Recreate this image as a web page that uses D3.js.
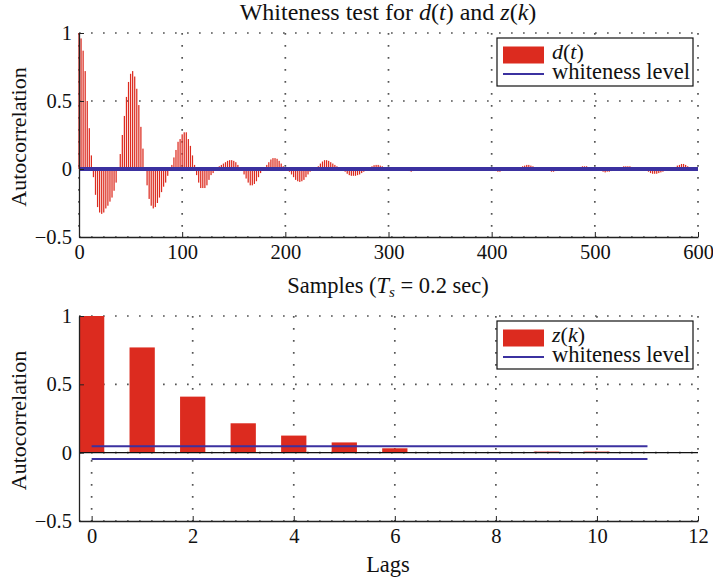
<!DOCTYPE html>
<html>
<head>
<meta charset="utf-8">
<script src="https://cdn.jsdelivr.net/npm/d3@7"></script>
<style>
  body { margin: 0; background: #fff; }
  svg text { font-family: "Liberation Serif", "DejaVu Serif", serif; fill: #111; }
  .tick text { font-size: 20.5px; }
  .tick line { stroke: #222; }
  .domain { stroke: #222; stroke-width: 1.3; }
</style>
</head>
<body>
<svg id="chart" width="713" height="580"></svg>
<script>
// autocorrelation of d(t), every 2 samples (lag 0..598)
const dLags = d3.range(0, 600, 2)
const dAcf = [
  1.00, 0.96, 0.87, 0.72, 0.50, 0.30, 0.10, -0.06, -0.19, -0.28,
  -0.32, -0.33, -0.32, -0.29, -0.27, -0.24, -0.21, -0.16, -0.10, -0.01,
  0.11, 0.25, 0.39, 0.53, 0.64, 0.70, 0.72, 0.68, 0.59, 0.47,
  0.31, 0.15, 0.00, -0.12, -0.22, -0.27, -0.29, -0.28, -0.25, -0.21,
  -0.17, -0.13, -0.10, -0.05, 0.00, 0.03, 0.085, 0.14, 0.20, 0.22,
  0.255, 0.27, 0.27, 0.22, 0.17, 0.10, 0.03, -0.045, -0.10, -0.14,
  -0.14, -0.14, -0.12, -0.08, -0.045, -0.03, -0.01, 0.01, 0.02, 0.03,
  0.04, 0.05, 0.06, 0.065, 0.065, 0.06, 0.05, 0.03, 0.01, -0.01,
  -0.04, -0.07, -0.10, -0.12, -0.12, -0.11, -0.09, -0.06, -0.03, -0.01,
  0.01, 0.03, 0.05, 0.07, 0.08, 0.08, 0.075, 0.06, 0.04, 0.02,
  0.01, -0.01, -0.02, -0.04, -0.06, -0.08, -0.09, -0.095, -0.09, -0.08,
  -0.06, -0.04, -0.02, -0.01, 0.00, 0.01, 0.02, 0.04, 0.055, 0.065,
  0.065, 0.06, 0.05, 0.04, 0.03, 0.02, 0.01, 0.00, -0.01, -0.02,
  -0.035, -0.045, -0.05, -0.05, -0.05, -0.045, -0.04, -0.03, -0.02, -0.01,
  0.00, 0.01, 0.02, 0.028, 0.03, 0.03, 0.025, 0.02, 0.01, 0.00,
  0, 0, 0, 0, 0, 0, 0, 0, 0, 0,
  -0.015, -0.02, -0.015, 0, 0, 0, 0, 0, 0, 0.005,
  0.005, 0, 0, 0, 0, 0, 0, 0, 0, 0,
  0, 0, 0, 0, 0, 0, 0, 0, 0, 0,
  0, 0.005, 0.005, 0.005, 0.005, 0.005, 0.005, 0, 0, 0,
  0, 0, -0.015, -0.02, -0.02, -0.01, 0, 0, 0, 0,
  0, 0, 0, 0, 0.01, 0.02, 0.025, 0.03, 0.03, 0.025,
  0.02, 0.01, 0.005, 0, 0, 0, 0, 0, -0.01, -0.02,
  -0.02, -0.015, 0, 0, 0, 0, 0, 0, 0, 0,
  0, 0, 0.01, 0.015, 0.02, 0.02, 0.02, 0.01, 0, 0,
  0, 0, 0, -0.01, -0.02, -0.025, -0.02, -0.02, -0.015, 0,
  0, 0, 0, 0.01, 0.02, 0.02, 0.02, 0.02, 0.015, 0.01,
  0, 0, 0, 0, 0, -0.01, -0.02, -0.03, -0.035, -0.035,
  -0.035, -0.03, -0.025, -0.02, -0.01, 0, 0, 0, 0, 0.015,
  0.025, 0.03, 0.037, 0.037, 0.03, 0.02, 0.01, 0, 0, 0
]
const dWhite = [-0.007, 0.007]

// autocorrelation of z(k)
const zLags = [0, 1, 2, 3, 4, 5, 6, 7, 8, 9, 10, 11]
const zAcf = [1.0, 0.77, 0.41, 0.215, 0.125, 0.075, 0.032, 0.0, 0.0, 0.008, 0.008, 0.0]
const zWhite = [-0.047, 0.047]

const yTicks = [-0.5, 0, 0.5, 1]
const dTicks = [0, 100, 200, 300, 400, 500, 600]
const zTicks = [0, 2, 4, 6, 8, 10, 12]

const red = '#dc2b1f'
const blue = '#3b31a0'

const svg = d3.select('#chart')
const fmt = d => d < 0 ? '\u2212' + Math.abs(d) : String(d)

function drawPanel(cfg) {
    const g = svg.append('g')
    const x = d3.scaleLinear().domain(cfg.xDomain).range([79, 698])
    const y = d3.scaleLinear().domain([-0.5, 1]).range([cfg.bottom, cfg.top])

    // dotted grid
    const grid = g.append('g')
        .attr('stroke', '#555').attr('stroke-width', 1.7)
        .attr('stroke-dasharray', '1.7,10.3')
    grid.selectAll('.gx').data(cfg.xTicks).enter().append('line')
        .attr('x1', d => x(d)).attr('x2', d => x(d))
        .attr('y1', y(1)).attr('y2', y(-0.5))
    grid.selectAll('.gy').data(yTicks).enter().append('line')
        .attr('x1', x.range()[0]).attr('x2', x.range()[1])
        .attr('y1', d => y(d)).attr('y2', d => y(d))

    // bars
    g.append('g').selectAll('rect').data(cfg.values).enter().append('rect')
        .attr('x', (d, i) => x(cfg.lags[i] - cfg.barW / 2))
        .attr('width', x(cfg.barW) - x(0))
        .attr('y', d => y(Math.max(d, 0)))
        .attr('height', d => Math.abs(y(d) - y(0)))
        .attr('fill', red)

    // baseline
    g.append('line')
        .attr('x1', x.range()[0]).attr('x2', x.range()[1])
        .attr('y1', y(0)).attr('y2', y(0))
        .attr('stroke', '#111').attr('stroke-width', 1.2)

    // whiteness level
    g.selectAll('.wl').data(cfg.white).enter().append('line')
        .attr('x1', x(cfg.whiteRange[0])).attr('x2', x(cfg.whiteRange[1]))
        .attr('y1', d => y(d)).attr('y2', d => y(d))
        .attr('stroke', blue).attr('stroke-width', 2)

    // axes, ticks pointing inward
    g.append('g').attr('transform', `translate(0,${cfg.bottom})`)
        .call(d3.axisBottom(x).tickValues(cfg.xTicks).tickSize(-5).tickSizeOuter(0).tickPadding(7).tickFormat(fmt))
        .attr('font-family', null).attr('font-size', null)
    g.append('g').attr('transform', 'translate(79,0)')
        .call(d3.axisLeft(y).tickValues(yTicks).tickSize(-5).tickSizeOuter(0).tickPadding(7).tickFormat(fmt))
        .attr('font-family', null).attr('font-size', null)
    g.selectAll('.domain').attr('stroke', '#222')

    // y label
    g.append('text')
        .attr('transform', `translate(26,${(cfg.top + cfg.bottom) / 2 + 2}) rotate(-90)`)
        .attr('text-anchor', 'middle').attr('font-size', 22)
        .text('Autocorrelation')

    // legend
    const lt = cfg.top + 5
    const lg = g.append('g')
    lg.append('rect').attr('x', 497).attr('y', lt).attr('width', 196).attr('height', 48)
        .attr('fill', '#fff').attr('stroke', '#111').attr('stroke-width', 1.2)
    lg.append('rect').attr('x', 503).attr('y', lt + 8.5).attr('width', 41).attr('height', 17)
        .attr('fill', red)
    lg.append('line').attr('x1', 503).attr('x2', 544).attr('y1', lt + 36).attr('y2', lt + 36)
        .attr('stroke', blue).attr('stroke-width', 2)
    lg.append('text').attr('x', 552).attr('y', lt + 21).attr('font-size', 22)
        .html(`<tspan font-style="italic">${cfg.sym[0]}</tspan>(<tspan font-style="italic">${cfg.sym[1]}</tspan>)`)
    lg.append('text').attr('x', 552).attr('y', lt + 41).attr('font-size', 22.5)
        .text('whiteness level')
}

drawPanel({
    top: 33, bottom: 237, xDomain: [0, 600], xTicks: dTicks,
    lags: dLags, values: dAcf, barW: 1.2,
    white: dWhite, whiteRange: [0, 600], sym: ['d', 't']
})
drawPanel({
    top: 316, bottom: 521, xDomain: [-0.25, 12], xTicks: zTicks,
    lags: zLags, values: zAcf, barW: 0.5,
    white: zWhite, whiteRange: [0, 11], sym: ['z', 'k']
})

// title
svg.append('text').attr('x', 388).attr('y', 20)
    .attr('text-anchor', 'middle').attr('font-size', 24)
    .html('Whiteness test for <tspan font-style="italic">d</tspan>(<tspan font-style="italic">t</tspan>) and <tspan font-style="italic">z</tspan>(<tspan font-style="italic">k</tspan>)')

// x labels
svg.append('text').attr('x', 388).attr('y', 293)
    .attr('text-anchor', 'middle').attr('font-size', 22.5)
    .html('Samples (<tspan font-style="italic">T</tspan><tspan font-style="italic" font-size="15" dy="4">s</tspan><tspan dy="-4"> = 0.2 sec)</tspan>')

svg.append('text').attr('x', 388).attr('y', 572)
    .attr('text-anchor', 'middle').attr('font-size', 22.5)
    .text('Lags')
</script>
</body>
</html>
